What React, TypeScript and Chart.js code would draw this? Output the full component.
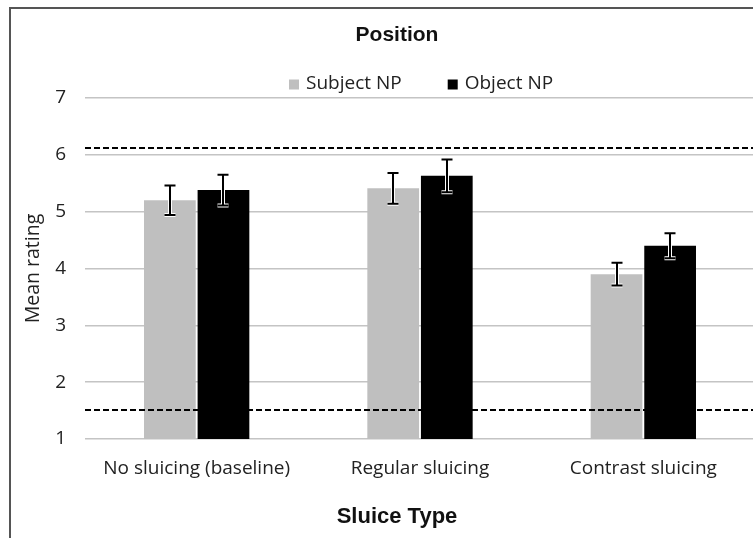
import React, { useEffect, useRef } from 'react';
import { Chart, registerables } from 'chart.js';

Chart.register(...registerables);

const categories = ['No sluicing (baseline)', 'Regular sluicing', 'Contrast sluicing'];
const seriesLabels = ['Subject NP', 'Object NP'];
const subjectNP = [5.2, 5.41, 3.9];
const objectNP = [5.38, 5.63, 4.4];
const subjectErr = [0.26, 0.27, 0.2];
const objectErr = [0.27, 0.29, 0.22];
const referenceLines = [6.12, 1.51];
const yMin = 1;
const yMax = 7;
const chartTitle = 'Position';
const xTitle = 'Sluice Type';
const yTitle = 'Mean rating';

const SERIES_COLORS = ['#bfbfbf', '#000000'];
const TEXT_FONT = '"Open Sans", "Noto Sans", sans-serif';
const TITLE_FONT = '"Liberation Sans", Arial, sans-serif';
const TEXT_COLOR = '#222';

const overlayPlugin = {
  id: 'overlay',
  afterDatasetsDraw(chart: any) {
    const { ctx, chartArea } = chart;
    const y = chart.scales.y;
    const errs = [subjectErr, objectErr];
    ctx.save();
    // reference dashed lines
    ctx.setLineDash([6, 3]);
    ctx.lineWidth = 2;
    ctx.strokeStyle = '#000';
    referenceLines.forEach((v) => {
      const py = Math.round(y.getPixelForValue(v));
      ctx.beginPath();
      ctx.moveTo(chartArea.left, py);
      ctx.lineTo(chartArea.right + 30, py);
      ctx.stroke();
    });
    ctx.setLineDash([]);
    // error bars
    const passes = [
      { w: 4, c: '#ffffff' },
      { w: 2, c: '#000000' },
    ];
    passes.forEach((p) => {
      ctx.lineWidth = p.w;
      ctx.strokeStyle = p.c;
      chart.data.datasets.forEach((ds: any, di: number) => {
        const meta = chart.getDatasetMeta(di);
        meta.data.forEach((bar: any, i: number) => {
          const v = ds.data[i];
          const e = errs[di][i];
          const x = Math.round(bar.x);
          const yT = y.getPixelForValue(v + e);
          const yB = y.getPixelForValue(v - e);
          const cap = 5.5;
          ctx.beginPath();
          ctx.moveTo(x, yT);
          ctx.lineTo(x, yB);
          ctx.moveTo(x - cap, yT);
          ctx.lineTo(x + cap, yT);
          ctx.moveTo(x - cap, yB);
          ctx.lineTo(x + cap, yB);
          ctx.stroke();
        });
      });
    });
    ctx.restore();
  },
  afterDraw(chart: any) {
    const { ctx } = chart;
    ctx.save();
    ctx.textBaseline = 'middle';
    // title
    ctx.fillStyle = '#111';
    ctx.textAlign = 'center';
    ctx.font = 'bold 21px ' + TITLE_FONT;
    ctx.fillText(chartTitle, 385, 26);
    // x-axis title
    ctx.font = 'bold 22px ' + TITLE_FONT;
    ctx.fillText(xTitle, 385, 508);
    // legend
    ctx.textAlign = 'left';
    ctx.font = '19px ' + TEXT_FONT;
    let lx = 277;
    const ly = 75;
    chart.data.datasets.forEach((ds: any) => {
      ctx.fillStyle = ds.backgroundColor;
      ctx.fillRect(lx, ly - 4.5, 10, 10);
      ctx.fillStyle = TEXT_COLOR;
      ctx.fillText(ds.label, lx + 17, ly);
      lx += 17 + ctx.measureText(ds.label).width + 46;
    });
    ctx.restore();
  },
};

export default function App() {
  const canvasRef = useRef<HTMLCanvasElement>(null);

  useEffect(() => {
    if (!canvasRef.current) return;
    const chart = new Chart(canvasRef.current, {
      type: 'bar',
      data: {
        labels: categories,
        datasets: [
          {
            label: seriesLabels[0],
            data: subjectNP,
            backgroundColor: SERIES_COLORS[0],
            categoryPercentage: 0.48,
            barPercentage: 0.965,
          },
          {
            label: seriesLabels[1],
            data: objectNP,
            backgroundColor: SERIES_COLORS[1],
            categoryPercentage: 0.48,
            barPercentage: 0.965,
          },
        ],
      },
      options: {
        responsive: false,
        animation: false,
        devicePixelRatio: 1,
        layout: { padding: { left: 0, right: 17, top: 89, bottom: 0 } },
        plugins: {
          legend: { display: false },
          title: { display: false },
          tooltip: { enabled: false },
        },
        scales: {
          x: {
            grid: { display: false, drawTicks: false },
            border: { display: false },
            ticks: {
              padding: 18,
              color: TEXT_COLOR,
              font: { family: TEXT_FONT, size: 19 },
            },
            afterFit: (scale: any) => {
              scale.height = 99;
            },
          },
          y: {
            min: yMin,
            max: yMax,
            grid: { color: '#c4c4c4', lineWidth: 1.5, drawTicks: false },
            border: { display: false },
            ticks: {
              stepSize: 1,
              padding: 19,
              color: TEXT_COLOR,
              font: { family: TEXT_FONT, size: 19 },
            },
            title: {
              display: true,
              text: yTitle,
              color: TEXT_COLOR,
              font: { family: TEXT_FONT, size: 19.5 },
              padding: { top: 10, bottom: 0 },
            },
            afterFit: (scale: any) => {
              scale.width = 73;
            },
          },
        },
      },
      plugins: [overlayPlugin],
    });
    return () => chart.destroy();
  }, []);

  return (
    <div
      style={{
        position: 'fixed',
        left: 9,
        top: 7,
        width: 744,
        height: 531,
        borderLeft: '2px solid #555',
        borderTop: '2px solid #555',
        boxSizing: 'border-box',
        overflow: 'hidden',
        background: '#fff',
      }}
    >
      <canvas
        ref={canvasRef}
        width={760}
        height={529}
        style={{ position: 'absolute', left: 1, top: 0, width: 760, height: 529 }}
      />
    </div>
  );
}
